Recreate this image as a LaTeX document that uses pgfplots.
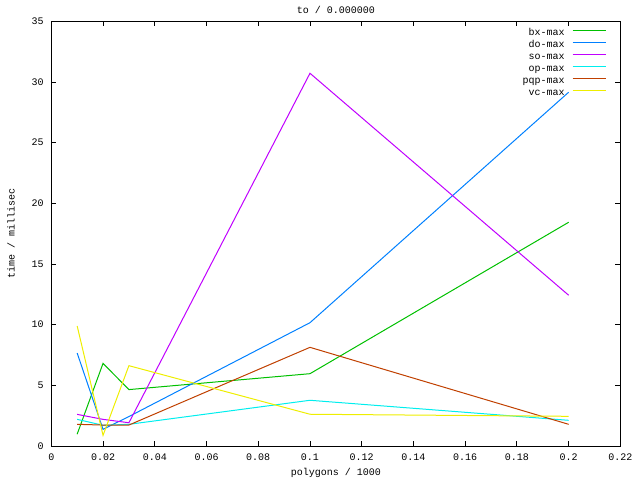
\documentclass[border=0pt]{standalone}
\usepackage{pgfplots}
\pgfplotsset{compat=1.18}
\usepackage{fontspec}
\setmainfont{Liberation Mono}
\definecolor{gpgreen}{RGB}{0,192,0}
\definecolor{gpblue}{RGB}{0,128,255}
\definecolor{gppurple}{RGB}{192,0,255}
\definecolor{gpcyan}{RGB}{0,238,238}
\definecolor{gpbrown}{RGB}{192,64,0}
\definecolor{gpyellow}{RGB}{238,238,0}
\pgfplotsset{
    gpline/.style={line width=1pt},
    legend image code/.code={\draw[#1] (0pt,3pt) -- (33.4pt,3pt);},
}
\begin{document}
\fontsize{10}{12}\selectfont
\begin{tikzpicture}
\begin{axis}[
    scale only axis,
    width=569.1pt, height=425pt,
    xmin=0, xmax=0.22, ymin=0, ymax=35,
    xtick={0,0.02,0.04,0.06,0.08,0.1,0.12,0.14,0.16,0.18,0.2,0.22},
    xticklabels={0,0.02,0.04,0.06,0.08,0.1,0.12,0.14,0.16,0.18,0.2,0.22},
    ytick={0,5,10,15,20,25,30,35},
    /pgf/number format/assume math mode=true,
    tick align=inside, major tick length=5pt,
    axis line style={line width=0.9pt},
    every tick/.style={black, line width=0.9pt},
    xticklabel style={anchor=base, yshift=-14.5pt},
    yticklabel style={anchor=base east, inner xsep=0pt, xshift=-7.5pt, yshift=-3pt},
    title={to / 0.000000},
    title style={at={(axis description cs:0.5,1.013)}, anchor=center},
    xlabel={polygons / 1000},
    xlabel style={at={(axis description cs:0.5,-0.0628)}, anchor=center},
    ylabel={time / millisec},
    ylabel style={at={(axis description cs:-0.0708,0.5)}, anchor=center},
    legend plot pos=right,
    legend cell align=right,
    legend style={draw=none, fill=none, at={(axis description cs:0.976,0.98659)},
        anchor=north east, inner sep=0pt, row sep=0pt, column sep=7.6pt,
        nodes={inner xsep=0pt, inner ysep=1.5pt, text height=7pt, text depth=2pt}},
]
\addplot[gpline, color=gpgreen] coordinates {(0.01,1.0) (0.02,6.83) (0.03,4.67) (0.1,5.98) (0.2,18.45)};
\addplot[gpline, color=gpblue] coordinates {(0.01,7.68) (0.02,1.40) (0.03,2.45) (0.1,10.18) (0.2,29.16)};
\addplot[gpline, color=gppurple] coordinates {(0.01,2.63) (0.02,2.22) (0.03,1.94) (0.1,30.72) (0.2,12.44)};
\addplot[gpline, color=gpcyan] coordinates {(0.01,2.22) (0.02,1.73) (0.03,1.81) (0.1,3.79) (0.2,2.14)};
\addplot[gpline, color=gpbrown] coordinates {(0.01,1.81) (0.02,1.75) (0.03,1.75) (0.1,8.15) (0.2,1.81)};
\addplot[gpline, color=gpyellow] coordinates {(0.01,9.91) (0.02,0.9) (0.03,6.64) (0.1,2.64) (0.2,2.47)};
\legend{bx-max,do-max,so-max,op-max,pqp-max,vc-max}
\end{axis}
\pgfresetboundingbox
\useasboundingbox (-51.3pt,-33.7pt) rectangle (588.7pt,446.3pt);
\end{tikzpicture}
\end{document}
